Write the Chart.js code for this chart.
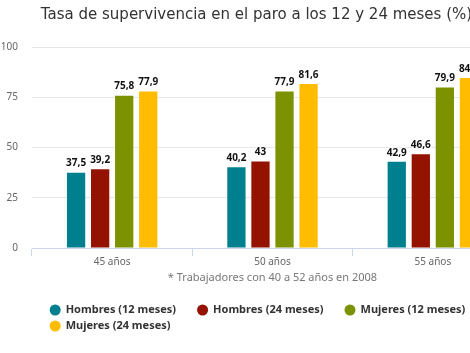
<!DOCTYPE html>
<html lang="es">
<head>
  <meta charset="UTF-8" />
  <title>Tasa de supervivencia en el paro</title>
  <script src="https://cdn.jsdelivr.net/npm/chart.js"></script>
  <style>
    html, body {
      margin: 0;
      padding: 0;
      background: #fff;
      overflow: hidden;
    }
    .wrap {
      width: 525px;
      height: 353px;
    }
  </style>
</head>
<body>
  <div class="wrap">
    <canvas id="chart" width="525" height="353"></canvas>
  </div>

  <script>
    const categories = ['45 años', '50 años', '55 años'];
    const hombres12 = [37.5, 40.2, 42.9];
    const hombres24 = [39.2, 43, 46.6];
    const mujeres12 = [75.8, 77.9, 79.9];
    const mujeres24 = [77.9, 81.6, 84.6];
    const yTicks = [0, 25, 50, 75, 100];
    const xTitle = '* Trabajadores con 40 a 52 años en 2008';

    const FONT = "'Noto Sans', 'DejaVu Sans', sans-serif";

    // value labels above each bar, decimal comma
    const valueLabels = {
      id: 'valueLabels',
      afterDatasetsDraw(chart) {
        const ctx = chart.ctx;
        ctx.save();
        ctx.font = 'bold 10px ' + FONT;
        ctx.fillStyle = '#111';
        ctx.textAlign = 'center';
        ctx.textBaseline = 'bottom';
        chart.data.datasets.forEach((ds, i) => {
          chart.getDatasetMeta(i).data.forEach((bar, j) => {
            const txt = String(ds.data[j]).replace('.', ',');
            ctx.strokeStyle = '#fff';
            ctx.lineWidth = 2;
            ctx.strokeText(txt, bar.x, bar.y - 4);
            ctx.fillText(txt, bar.x, bar.y - 4);
          });
        });
        ctx.restore();
      }
    };

    // axis title under the labels + legend with round markers
    const bottomBits = {
      id: 'bottomBits',
      afterDraw(chart) {
        const ctx = chart.ctx;
        const area = chart.chartArea;
        ctx.save();
        ctx.font = '11px ' + FONT;
        ctx.fillStyle = '#777';
        ctx.textAlign = 'center';
        ctx.textBaseline = 'middle';
        ctx.fillText(xTitle, (area.left + area.right) / 2, area.bottom + 30);

        ctx.font = 'bold 11px ' + FONT;
        ctx.textAlign = 'left';
        const gap = 21, r = 5.5, maxRow = 420;
        const items = chart.data.datasets.map(ds => ({
          label: ds.label,
          color: ds.backgroundColor,
          w: 2 * r + 5 + ctx.measureText(ds.label).width
        }));
        const rows = [[]];
        let rowW = 0;
        items.forEach(it => {
          const add = (rows[rows.length - 1].length ? gap : 0) + it.w;
          if (rowW + add > maxRow && rows[rows.length - 1].length) {
            rows.push([it]);
            rowW = it.w;
          } else {
            rows[rows.length - 1].push(it);
            rowW += add;
          }
        });
        const firstW = rows[0].reduce((s, it, k) => s + it.w + (k ? gap : 0), 0);
        const startX = chart.width / 2 - 5 - firstW / 2;
        rows.forEach((row, ri) => {
          let x = startX;
          const y = area.bottom + 62 + ri * 16;
          row.forEach(it => {
            ctx.fillStyle = it.color;
            ctx.beginPath();
            ctx.arc(x + r, y, r, 0, Math.PI * 2);
            ctx.fill();
            ctx.fillStyle = '#333';
            ctx.fillText(it.label, x + 2 * r + 5, y);
            x += it.w + gap;
          });
        });
        ctx.restore();
      }
    };

    new Chart(document.getElementById('chart'), {
      type: 'bar',
      data: {
        labels: categories,
        datasets: [
          { label: 'Hombres (12 meses)', data: hombres12, backgroundColor: '#00808f' },
          { label: 'Hombres (24 meses)', data: hombres24, backgroundColor: '#941200' },
          { label: 'Mujeres (12 meses)', data: mujeres12, backgroundColor: '#7d9200' },
          { label: 'Mujeres (24 meses)', data: mujeres24, backgroundColor: '#ffbc00' }
        ]
      },
      options: {
        responsive: false,
        animation: false,
        devicePixelRatio: 1,
        layout: { padding: { left: 0, right: 12, top: 0, bottom: 0 } },
        datasets: {
          bar: { categoryPercentage: 0.6, barPercentage: 0.76 }
        },
        plugins: {
          legend: { display: false },
          tooltip: { enabled: false },
          title: {
            display: true,
            text: 'Tasa de supervivencia en el paro a los 12 y 24 meses (%)',
            color: '#333',
            font: { family: "'DejaVu Sans', sans-serif", size: 15, weight: 'normal' },
            padding: { top: 6, bottom: 23 }
          }
        },
        scales: {
          x: {
            grid: {
              drawOnChartArea: false,
              drawTicks: true,
              tickLength: 8,
              color: '#ccd6eb'
            },
            border: { color: '#ccd6eb' },
            ticks: {
              color: '#666',
              padding: 0,
              font: { family: FONT, size: 10 }
            },
            afterFit(scale) { scale.height = 105; }
          },
          y: {
            min: 0,
            max: 100,
            afterBuildTicks(scale) { scale.ticks = yTicks.map(v => ({ value: v })); },
            grid: { color: '#e6e6e6', drawTicks: false },
            border: { display: false },
            ticks: {
              color: '#666',
              padding: 14,
              font: { family: FONT, size: 10 }
            },
            afterFit(scale) { scale.width = 32; }
          }
        }
      },
      plugins: [valueLabels, bottomBits]
    });
  </script>
</body>
</html>
